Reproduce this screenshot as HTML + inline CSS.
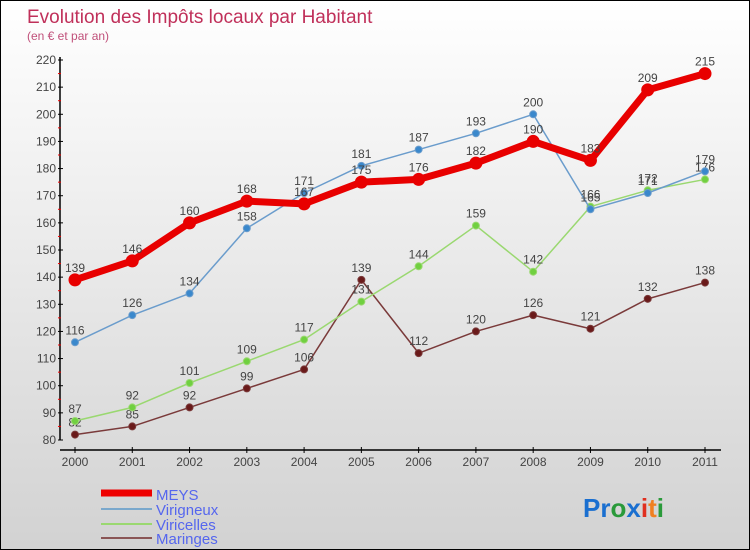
<!DOCTYPE html>
<html><head><meta charset="utf-8"><style>
html,body{margin:0;padding:0}
body{width:750px;height:550px;overflow:hidden;font-family:"Liberation Sans",sans-serif}
#wrap{position:relative;width:748px;height:548px;border:1px solid #000;background:linear-gradient(#ffffff,#d2d2d2)}
svg{position:absolute;left:0;top:0}
</style></head><body>
<div id="wrap">
<svg id="chart" width="748" height="548">
<text x="26" y="22" font-size="19" fill="#c0305a">Evolution des Impôts locaux par Habitant</text>
<text x="26" y="39" font-size="12" fill="#c0507a">(en € et par an)</text>
<g id="axes"></g><g id="series"></g>
<g>
<line x1="100" y1="492" x2="151" y2="492" stroke="#e00" stroke-width="7"/>
<line x1="100" y1="508" x2="151" y2="508" stroke="#7aa8cc" stroke-width="2"/>
<line x1="100" y1="523" x2="151" y2="523" stroke="#9ad870" stroke-width="2"/>
<line x1="100" y1="537" x2="151" y2="537" stroke="#8a5555" stroke-width="2"/>
<text x="155" y="499" font-size="15" fill="#5566ee">MEYS</text>
<text x="155" y="514" font-size="15" fill="#5566ee">Virigneux</text>
<text x="155" y="529" font-size="15" fill="#5566ee">Viricelles</text>
<text x="155" y="543" font-size="15" fill="#5566ee">Maringes</text>
</g>
<text x="582" y="516" font-size="26" font-weight="bold"><tspan fill="#1a6fd0">Pr</tspan><tspan fill="#2a9a3a">o</tspan><tspan fill="#1a6fd0">x</tspan><tspan fill="#e03020">i</tspan><tspan fill="#f08020">t</tspan><tspan fill="#2a9a3a">i</tspan></text>
</svg>
</div>
<script>
const years=["2000","2001","2002","2003","2004","2005","2006","2007","2008","2009","2010","2011"];
const yTicks=[80,90,100,110,120,130,140,150,160,170,180,190,200,210,220];
const meys=[139,146,160,168,167,175,176,182,190,183,209,215];
const virigneux=[116,126,134,158,171,181,187,193,200,165,171,179];
const viricelles=[87,92,101,109,117,131,144,159,142,166,172,176];
const maringes=[82,85,92,99,106,139,112,120,126,121,132,138];
const NS="http://www.w3.org/2000/svg";
function xS(i){return 74+i*(704-74)/(years.length-1);}
function yS(v){return 439-(v-80)*(380/140);}
function mk(tag,attrs,parent){const e=document.createElementNS(NS,tag);for(const k in attrs)e.setAttribute(k,attrs[k]);parent.appendChild(e);return e;}
const ax=document.getElementById('axes');
let l=mk('line',{x1:59,y1:yS(220)-3,x2:59,y2:yS(80),stroke:'#000','stroke-width':1.5},ax);


l=mk('line',{x1:59,y1:449,x2:720,y2:449,stroke:'#000','stroke-width':1.5},ax);


yTicks.forEach((v,i)=>{
 mk('line',{x1:57,y1:yS(v),x2:62,y2:yS(v),stroke:'#000'},ax);
 if(i<yTicks.length-1) mk('line',{x1:57,y1:yS(v+5),x2:60,y2:yS(v+5),stroke:'#e00'},ax);
 const t=mk('text',{x:55,y:yS(v)+4,'font-size':12,fill:'#444','text-anchor':'end'},ax);
 t.textContent=v;
 
 
});
years.forEach((y,i)=>{
 mk('line',{x1:xS(i),y1:446,x2:xS(i),y2:452,stroke:'#000'},ax);
 const t=mk('text',{x:xS(i),y:465,'font-size':12,fill:'#444','text-anchor':'middle'},ax);
 t.textContent=y;
 
 
});
const sg=document.getElementById('series');
function series(name,vals,color,w,r,dot){
 const g=mk('g',{},sg);
 
 
 const p=mk('polyline',{points:vals.map((v,i)=>xS(i)+','+yS(v)).join(' '),fill:'none',stroke:color,'stroke-width':w,'stroke-linejoin':'round'},g);
 
 
 vals.forEach((v,i)=>{
  const c=mk('circle',{cx:xS(i),cy:yS(v),r:r,fill:dot,stroke:color,'stroke-width':1},g);
  
  
  const t=mk('text',{x:xS(i),y:yS(v)-8,'font-size':12,fill:'#444','text-anchor':'middle'},g);
  t.textContent=v;
  
  
 });
}
series('maringes',maringes,'#7a3a3a',1.5,3.5,'#6a1a1a');
series('viricelles',viricelles,'#9ad870',1.5,3.5,'#70d040');
series('virigneux',virigneux,'#6a9ccc',1.5,3.5,'#3a88cc');
series('meys',meys,'#e80000',7,6,'#e80000');
</script>
</body></html>
